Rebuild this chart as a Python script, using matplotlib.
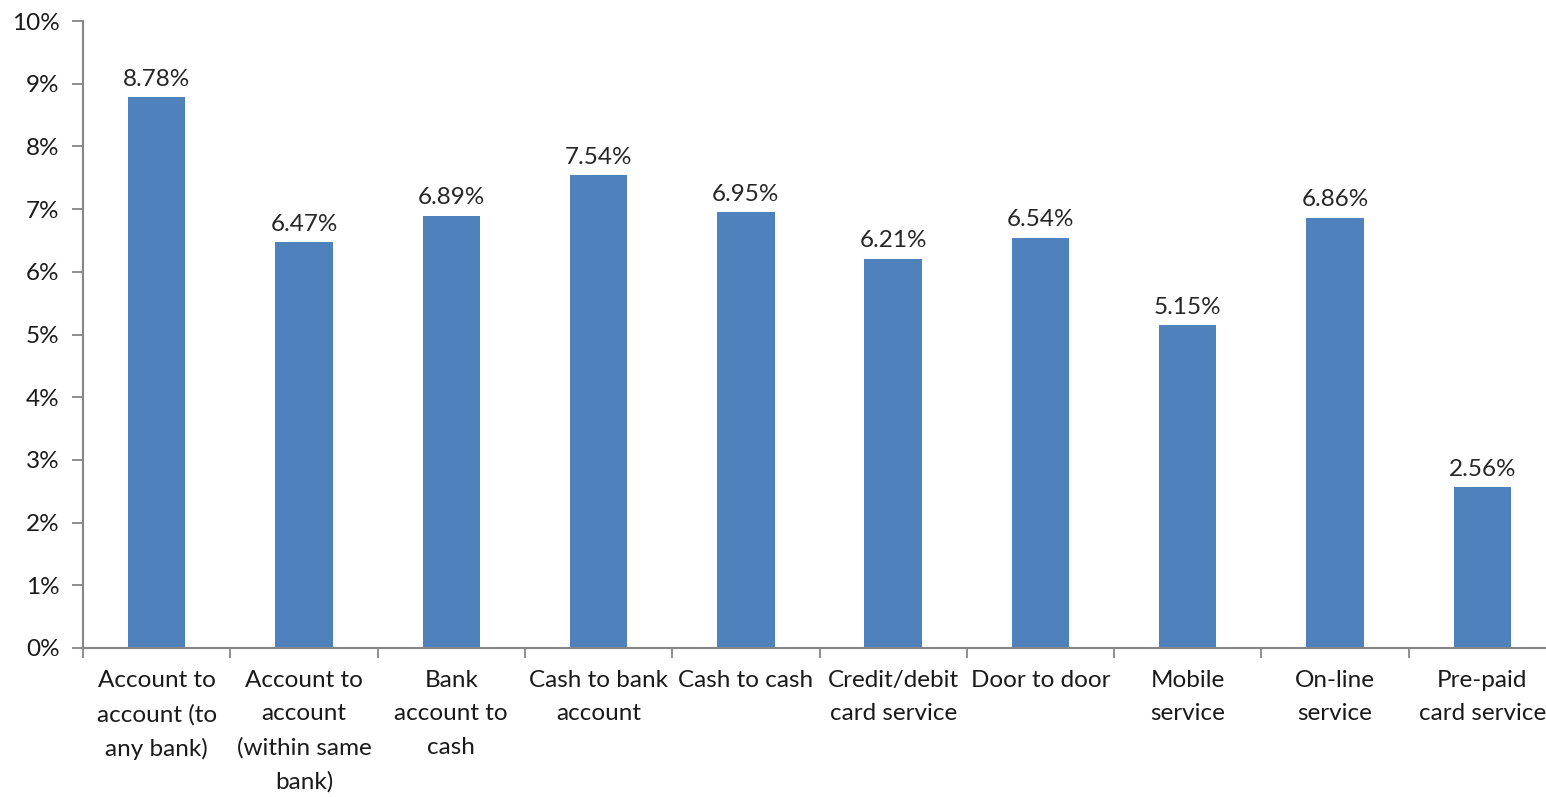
import numpy as np
import matplotlib.pyplot as plt
from matplotlib.ticker import FuncFormatter

plt.rcParams['font.family'] = ['Lato', 'DejaVu Sans']

# data
categories = ['Account to\naccount (to\nany bank)', 'Account to\naccount\n(within same\nbank)',
              'Bank\naccount to\ncash', 'Cash to bank\naccount', 'Cash to cash',
              'Credit/debit\ncard service', 'Door to door', 'Mobile\nservice',
              'On-line\nservice', 'Pre-paid\ncard service']
values = [8.78, 6.47, 6.89, 7.54, 6.95, 6.21, 6.54, 5.15, 6.86, 2.56]

fig = plt.figure(figsize=(15.46, 7.97), dpi=100)
ax = fig.add_axes([83/1546, 149/797, 1473/1546, 627/797])

x = np.arange(len(values))
ax.bar(x, values, width=0.39, color='#4F81BD', zorder=2)

# value labels above bars
for xi, v in zip(x, values):
    ax.text(xi, v + 0.12, f'{v:.2f}%', ha='center', va='bottom', fontsize=17.5, color='#262626')

ax.set_xlim(-0.5, len(values) - 0.5)
ax.set_ylim(0, 10)
ax.set_yticks(np.arange(0, 11, 1))
ax.yaxis.set_major_formatter(FuncFormatter(lambda v, p: f'{v:.0f}%'))

# category labels centred, tick marks between categories
ax.set_xticks(x)
ax.set_xticklabels(categories, fontsize=17.5, color='#1a1a1a', linespacing=1.72, va='top')
ax.tick_params(axis='x', which='major', length=0, pad=16)
ax.set_xticks(np.arange(-0.5, len(values), 1), minor=True)
ax.tick_params(axis='x', which='minor', length=7, width=1.3, color='#868686')
ax.tick_params(axis='y', length=8, width=1.3, color='#868686', labelsize=17.5, labelcolor='#1a1a1a', pad=9)

for s in ['top', 'right']:
    ax.spines[s].set_visible(False)
for s in ['left', 'bottom']:
    ax.spines[s].set_color('#868686')
    ax.spines[s].set_linewidth(1.5)

fig.savefig('out.png', dpi=100)
